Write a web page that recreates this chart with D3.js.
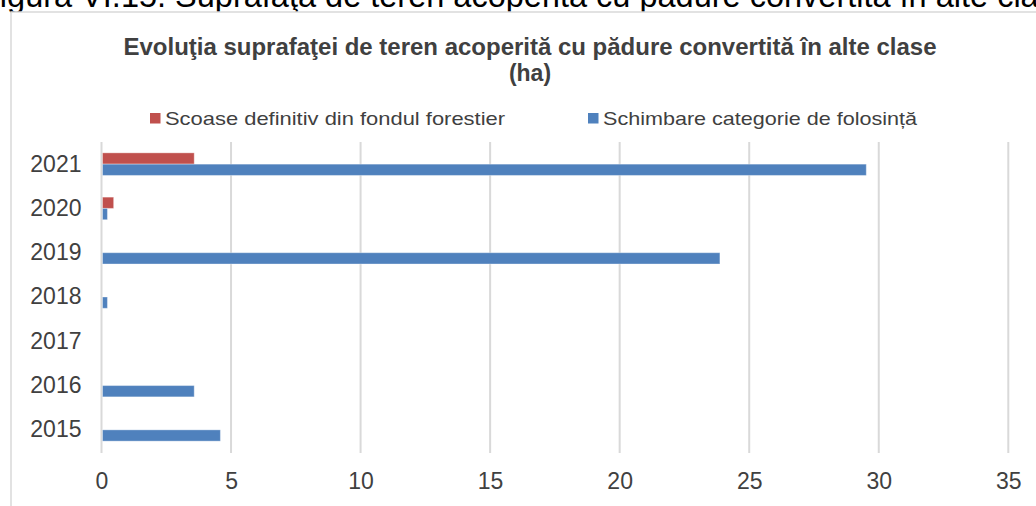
<!DOCTYPE html>
<html>
<head>
<meta charset="utf-8">
<script src="https://cdn.jsdelivr.net/npm/d3@7"></script>
<style>
  html, body { margin: 0; padding: 0; background: #fff; }
  svg { display: block; font-family: "Liberation Sans", Arial, sans-serif; }
</style>
</head>
<body>
<div id="chart"></div>
<script>
// values (ha)
var years = ["2015", "2016", "2017", "2018", "2019", "2020", "2021"];
var scoase = [0, 0, 0, 0, 0, 0.43, 3.54];
var schimbare = [4.55, 3.54, 0, 0.19, 23.83, 0.19, 29.48];
var seriesNames = ["Scoase definitiv din fondul forestier", "Schimbare categorie de folosință"];
var seriesColors = ["#C0504D", "#4F81BD"];
var xTicks = [0, 5, 10, 15, 20, 25, 30, 35];

var W = 1036, H = 506;
var svg = d3.select("#chart").append("svg").attr("width", W).attr("height", H);

// caption of the figure, cut off at the top like in the source document
svg.append("text")
    .attr("x", -20).attr("y", 7)
    .attr("font-size", 32.5).attr("fill", "#000")
    .text("Figura VI.15. Suprafaţa de teren acoperită cu pădure convertită în alte clase");

// chart frame
svg.append("rect")
    .attr("x", 11).attr("y", 12).attr("width", W + 10).attr("height", H + 10)
    .attr("fill", "#fff").attr("stroke", "#d9d9d9").attr("stroke-width", 1.5);

// title
var title = svg.append("text").attr("text-anchor", "middle")
    .attr("font-weight", "bold").attr("font-size", 23).attr("fill", "#404040");
title.append("tspan").attr("x", 530).attr("y", 55)
    .attr("textLength", 813).attr("lengthAdjust", "spacingAndGlyphs")
    .text("Evoluţia suprafaţei de teren acoperită cu pădure convertită în alte clase");
title.append("tspan").attr("x", 530).attr("y", 81).text("(ha)");

// legend
var legendX = [150, 588];
var legendW = [355, 329];
seriesNames.forEach(function (name, i) {
    svg.append("rect")
        .attr("x", legendX[i]).attr("y", 113).attr("width", 10.5).attr("height", 10.5)
        .attr("fill", seriesColors[i]);
    svg.append("text")
        .attr("x", legendX[i] + 15).attr("y", 124.5)
        .attr("font-size", 18.5).attr("fill", "#404040")
        .attr("textLength", legendW[i] - 15).attr("lengthAdjust", "spacingAndGlyphs")
        .text(name);
});

// scales
var x = d3.scaleLinear().domain([0, 35]).range([101.5, 1008.3]);
var y = d3.scaleBand().domain(years.slice().reverse()).range([142, 452])
    .paddingInner(0.49).paddingOuter(0.245);
var sub = d3.scaleBand().domain([0, 1]).range([0, y.bandwidth()]);

// gridlines
svg.append("g").selectAll("line").data(xTicks).join("line")
    .attr("x1", function (d) { return x(d); }).attr("x2", function (d) { return x(d); })
    .attr("y1", 142).attr("y2", 453)
    .attr("stroke", "#d9d9d9").attr("stroke-width", 2);

// bars
var rows = years.map(function (yr, i) {
    return { year: yr, values: [scoase[i], schimbare[i]] };
});
var groups = svg.append("g").selectAll("g").data(rows).join("g")
    .attr("transform", function (d) { return "translate(0," + y(d.year) + ")"; });
groups.selectAll("rect").data(function (d) { return d.values; }).join("rect")
    .attr("x", x(0) + 1)
    .attr("y", function (d, i) { return sub(i); })
    .attr("width", function (d) { return Math.max(0, x(d) - x(0)); })
    .attr("height", sub.bandwidth())
    .attr("fill", function (d, i) { return seriesColors[i]; })
    .attr("stroke", "rgba(255,255,255,0.35)").attr("stroke-width", 1);

// category axis
var yAxis = svg.append("g").attr("transform", "translate(" + x(0) + ",0)")
    .call(d3.axisLeft(y).tickSize(0).tickPadding(20));
yAxis.select(".domain").remove();
yAxis.selectAll("text").attr("font-size", 23).attr("fill", "#404040")
    .attr("font-family", "Liberation Sans, Arial, sans-serif");

// value axis
var xAxis = svg.append("g").attr("transform", "translate(0,453)")
    .call(d3.axisBottom(x).tickValues(xTicks).tickSize(0).tickPadding(20));
xAxis.select(".domain").remove();
xAxis.selectAll("text").attr("font-size", 23).attr("fill", "#404040")
    .attr("font-family", "Liberation Sans, Arial, sans-serif");
</script>
</body>
</html>
